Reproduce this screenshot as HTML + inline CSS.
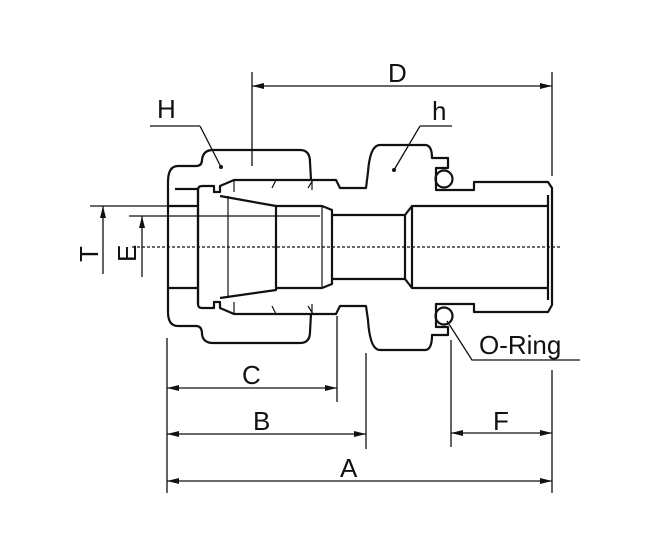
<!DOCTYPE html>
<html><head><meta charset="utf-8"><style>
html,body{margin:0;padding:0;background:#fff}
svg{display:block}
text{font-family:"Liberation Sans",sans-serif;fill:#111}
</style></head><body>
<svg width="650" height="540" viewBox="0 0 650 540" xmlns="http://www.w3.org/2000/svg">
<defs>
<marker id="ar" markerWidth="12" markerHeight="6" refX="12" refY="3" orient="auto-start-reverse" markerUnits="userSpaceOnUse">
<path d="M0,0 L12,3 L0,6 Z" fill="#111"/></marker>
</defs>
<g fill="none" stroke="#111" stroke-width="2.2" stroke-linejoin="round">
<path d="M198,189 L175,189 M168,182 Q168,166 178,166 L196,166 Q202,166 202,160 Q203,150 213,150 L300,150 Q310,150 310,162 L311,180
M168,182 L168,312 M168,312 Q168,326 178,326 L196,326 Q202,326 202,334 Q203,343 213,343 L300,343 Q310,343 310,332 L311,314"/>
<path d="M198,190 Q198,186 202,186 L214,186 L214,192 L220,192 L220,186 L234,180 L336,180 L340,188 L366,188 L368,172 Q370,145 380,145 L425,145 Q432,145 432,158 L448,158 L448,168 L436,168 L436,190 L474,190 L474,182 L548,182 L552,188 L552,305 L548,312 L474,312 L474,304 L436,304 L436,327 L448,327 L448,335 L432,335 Q432,350 425,350 L380,350 Q370,350 368,320 L366,306 L340,306 L336,314 L234,314 L220,308 L220,302 L214,302 L214,308 L202,308 Q198,308 198,304 Z"/>
<path d="M168,206 L198,206 M168,288 L198,288"/>
<path d="M198,190 L198,304"/>
<path d="M220,196 L276,206 L276,290 L220,298"/>
<path d="M228,196 L228,298" stroke-width="1.2"/>
<path d="M276,206 L322,206 L332,210 L332,284 L322,288 L276,288"/>
<path d="M322,206 L322,288" stroke-width="1.2"/>
<path d="M332,215 L405,215 L412,206 L548,206 M332,279 L405,279 L412,288 L548,288 M405,215 L405,279 M412,206 L412,288 M548,195 L548,300"/>
<path d="M312,180 L312,190 M312,304 L312,314" stroke-width="1.2"/>
<path d="M276,180 L272,188 M272,306 L276,314 M313,180 L308,188 M308,306 L313,314" stroke-width="1.2"/>
<path d="M234,180 L234,192 M234,302 L234,314" stroke-width="1.2"/>
<circle cx="444" cy="179" r="8.5"/>
<circle cx="444" cy="316" r="8.5"/>
</g>
<line x1="132" y1="247" x2="562" y2="247" stroke="#111" stroke-width="1.2" stroke-dasharray="3,2"/>
<g stroke="#111" stroke-width="1.3" fill="none">
<line x1="252" y1="72" x2="252" y2="166"/>
<line x1="552" y1="72" x2="552" y2="176"/>
<line x1="252" y1="86" x2="552" y2="86" marker-end="url(#ar)" marker-start="url(#ar)"/>
<line x1="150" y1="126" x2="200" y2="126"/><line x1="200" y1="126" x2="221" y2="167"/>
<line x1="420" y1="126" x2="452" y2="126"/><line x1="420" y1="126" x2="394" y2="170"/>
<line x1="167" y1="338" x2="167" y2="493"/>
<line x1="337" y1="316" x2="337" y2="402"/>
<line x1="366" y1="353" x2="366" y2="449"/>
<line x1="451" y1="340" x2="451" y2="447"/>
<line x1="552" y1="370" x2="552" y2="493"/>
<line x1="167" y1="388" x2="337" y2="388" marker-end="url(#ar)" marker-start="url(#ar)"/>
<line x1="167" y1="434" x2="366" y2="434" marker-end="url(#ar)" marker-start="url(#ar)"/>
<line x1="451" y1="433" x2="552" y2="433" marker-end="url(#ar)" marker-start="url(#ar)"/>
<line x1="167" y1="481" x2="552" y2="481" marker-end="url(#ar)" marker-start="url(#ar)"/>
<line x1="90" y1="206" x2="168" y2="206"/>
<line x1="129" y1="216" x2="320" y2="216"/>
<line x1="103" y1="274" x2="103" y2="206" marker-end="url(#ar)"/>
<line x1="142" y1="277" x2="142" y2="216" marker-end="url(#ar)"/>
<polyline points="447,321 472,360 580,360"/>
</g>
<circle cx="221" cy="167" r="2" fill="#111"/>
<circle cx="394" cy="170" r="2" fill="#111"/>
<g font-size="26">
<text x="388" y="82">D</text>
<text x="157" y="118">H</text>
<text x="432" y="120">h</text>
<text x="242" y="384">C</text>
<text x="253" y="430">B</text>
<text x="493" y="430">F</text>
<text x="340" y="477">A</text>
<text x="479" y="354">O-Ring</text>
<text transform="translate(98,262) rotate(-90)">T</text>
<text transform="translate(136,262) rotate(-90)">E</text>
</g>
</svg>
</body></html>
